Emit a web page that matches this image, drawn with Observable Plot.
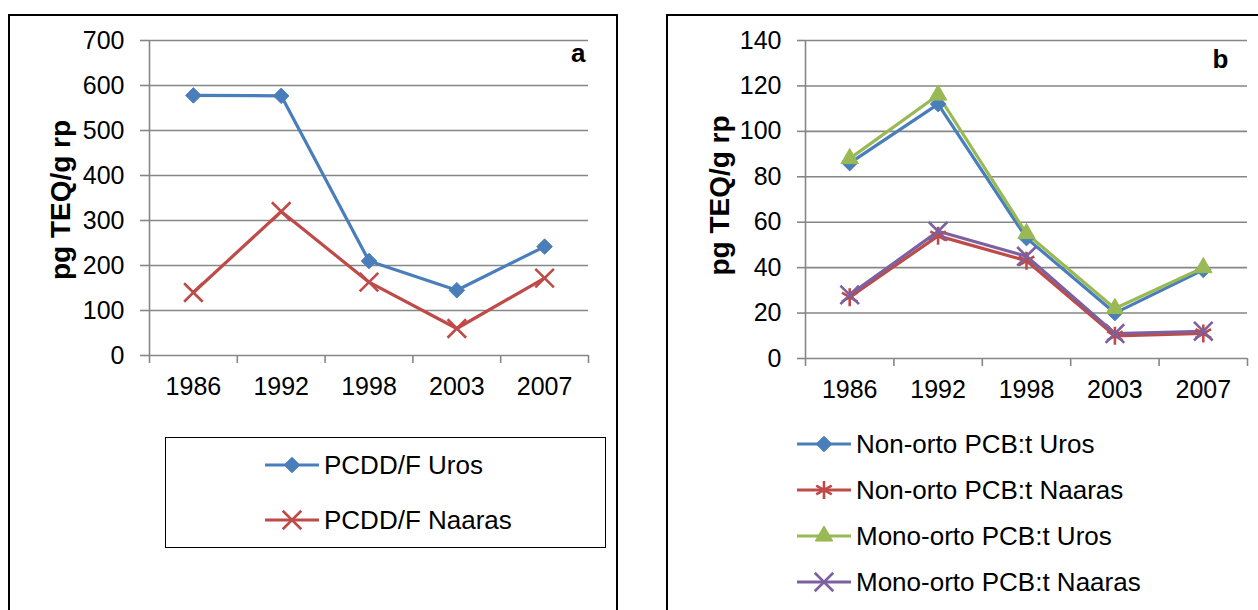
<!DOCTYPE html>
<html><head><meta charset="utf-8">
<script src="https://cdn.jsdelivr.net/npm/d3@7"></script>
<script src="https://cdn.jsdelivr.net/npm/@observablehq/plot@0.6"></script>
<style>
body{margin:0;background:#fff;font-family:"Liberation Sans",Arial,sans-serif;}
#root{position:relative;width:1258px;height:610px;overflow:hidden;background:#fff;}
.panel{position:absolute;border:2px solid #000;box-sizing:border-box;}
.abs{position:absolute;}
</style></head>
<body><div id="root"></div>
<script>
const years = ["1986","1992","1998","2003","2007"];
const yTicksA = [0,100,200,300,400,500,600,700];
const yTicksB = [0,20,40,60,80,100,120,140];
const pcddUros = [578, 577, 210, 145, 242];
const pcddNaaras = [140, 320, 163, 60, 172];
const nonOrtoUros = [86, 112, 53, 20, 39];
const nonOrtoNaaras = [27, 54, 43, 10, 11];
const monoOrtoUros = [88, 116, 55, 22, 40];
const monoOrtoNaaras = [28, 56, 45, 11, 12];
const yLabel = "pg TEQ/g rp";

const seriesA = [
  {name:"PCDD/F Uros", values:pcddUros, color:"#4A7EBB", symbol:"diamond2", fill:true},
  {name:"PCDD/F Naaras", values:pcddNaaras, color:"#BE4B48", symbol:"times", fill:false}
];
const seriesB = [
  {name:"Non-orto PCB:t Uros", values:nonOrtoUros, color:"#4A7EBB", symbol:"diamond2", fill:true},
  {name:"Non-orto PCB:t Naaras", values:nonOrtoNaaras, color:"#BE4B48", symbol:"asterisk", fill:false},
  {name:"Mono-orto PCB:t Uros", values:monoOrtoUros, color:"#98B954", symbol:"triangle", fill:true},
  {name:"Mono-orto PCB:t Naaras", values:monoOrtoNaaras, color:"#7D60A0", symbol:"times", fill:false}
];
const symR = {diamond2:7, triangle:6.5, times:8.5, asterisk:8.5};
const FONT = '"Liberation Sans", Arial, sans-serif';

const root = document.getElementById("root");

function panel(left, top, w, h){
  const d = document.createElement("div");
  d.className = "panel";
  Object.assign(d.style,{left:left+"px",top:top+"px",width:w+"px",height:h+"px"});
  root.appendChild(d);
}
panel(8, 14, 610, 620);
panel(666, 14, 620, 620);

function chart(series, yTicks, opts){
  const bounds = d3.range(-0.5, years.length, 1);
  const marks = [
    Plot.ruleY(yTicks.slice(1), {stroke:"#868686", strokeWidth:1.6, strokeOpacity:1}),
    Plot.axisY({ticks:yTicks, tickSize:opts.tick, tickPadding:16, fontSize:25, stroke:"#868686", strokeWidth:1.6, color:"#000", label:null, tickFormat:d=>String(d)}),
    Plot.ruleX([-0.5], {stroke:"#868686", strokeWidth:1.6}),
    Plot.ruleY([0], {stroke:"#868686", strokeWidth:1.6}),
    Plot.axisX({ticks:bounds, tickSize:8, tickFormat:()=> "", stroke:"#868686", strokeWidth:1.6, label:null}),
    Plot.axisX({ticks:d3.range(years.length), tickSize:0, tickPadding:22, tickFormat:i=>years[i], fontSize:25, label:null}),
    Plot.text([yLabel], {frameAnchor:"left", dx:opts.labelDx, dy:opts.labelDy, rotate:-90, fontSize:28, fontWeight:"bold", textAnchor:"middle"}),
    Plot.text([opts.tag], {frameAnchor:"top-right", dx:opts.tagDx, dy:opts.tagDy, fontSize:26, fontWeight:"bold", textAnchor:"end"})
  ];
  series.forEach(s=>{
    const data = s.values.map((v,i)=>({i,v}));
    marks.push(Plot.line(data, {x:"i", y:"v", stroke:s.color, strokeWidth:3.2}));
  });
  series.forEach(s=>{
    const data = s.values.map((v,i)=>({i,v}));
    if (s.fill) marks.push(Plot.dot(data, {x:"i", y:"v", symbol:s.symbol, fill:s.color, stroke:s.color, strokeWidth:1, r:symR[s.symbol]}));
    else marks.push(Plot.dot(data, {x:"i", y:"v", symbol:s.symbol, stroke:s.color, strokeWidth:2.6, r:symR[s.symbol]}));
  });
  return Plot.plot({
    width:opts.width, height:420,
    marginLeft:opts.ml, marginRight:opts.mr, marginTop:opts.mt, marginBottom:420-opts.y0,
    style:{fontFamily:FONT, background:"transparent", overflow:"visible"},
    x:{type:"linear", domain:[-0.5, years.length-0.5]},
    y:{domain:[yTicks[0], yTicks[yTicks.length-1]]},
    marks
  });
}

const a = chart(seriesA, yTicksA, {width:620, ml:149, mr:32, mt:40, y0:355, tick:9, labelDx:-88, labelDy:2, tag:"a", tagDx:-3, tagDy:3});
a.classList.add("abs"); a.style.left="0px"; a.style.top="0px";
root.appendChild(a);
const b = chart(seriesB, yTicksB, {width:618, ml:165, mr:11, mt:40, y0:358, tick:8, labelDx:-85, labelDy:-4, tag:"b", tagDx:-19, tagDy:9});
b.classList.add("abs"); b.style.left="640px"; b.style.top="0px";
root.appendChild(b);

function legend(items, left, top, gap, boxed, boxW, boxH, lx, y0){
  const ns = "http://www.w3.org/2000/svg";
  const div = document.createElement("div");
  div.className = "abs";
  Object.assign(div.style,{left:left+"px",top:top+"px",width:boxW+"px",height:boxH+"px",boxSizing:"border-box"});
  if (boxed) div.style.border = "1.5px solid #000";
  const svg = document.createElementNS(ns,"svg");
  svg.setAttribute("width", boxW); svg.setAttribute("height", boxH);
  svg.style.position="absolute"; svg.style.left="0"; svg.style.top="0"; svg.style.overflow="visible";
  div.appendChild(svg);
  const symMap = {diamond2:d3.symbolDiamond2, times:d3.symbolTimes, triangle:d3.symbolTriangle, asterisk:d3.symbolAsterisk};
  items.forEach((s,k)=>{
    const cy = y0 + k*gap;
    const line = document.createElementNS(ns,"line");
    line.setAttribute("x1",lx); line.setAttribute("x2",lx+54);
    line.setAttribute("y1",cy); line.setAttribute("y2",cy);
    line.setAttribute("stroke",s.color); line.setAttribute("stroke-width",3.2);
    svg.appendChild(line);
    const r = symR[s.symbol];
    const p = document.createElementNS(ns,"path");
    p.setAttribute("d", d3.symbol(symMap[s.symbol], Math.PI*r*r)());
    p.setAttribute("transform",`translate(${lx+27},${cy})`);
    if (s.fill){p.setAttribute("fill",s.color);p.setAttribute("stroke",s.color);}
    else {p.setAttribute("fill","none");p.setAttribute("stroke",s.color);p.setAttribute("stroke-width",2.6);}
    svg.appendChild(p);
    const t = document.createElementNS(ns,"text");
    t.setAttribute("x",lx+59); t.setAttribute("y",cy); t.setAttribute("dy","0.35em");
    t.setAttribute("font-size",26); t.setAttribute("font-family",FONT);
    t.textContent = s.name;
    svg.appendChild(t);
  });
  root.appendChild(div);
}
legend(seriesA, 165, 437, 55, true, 441, 111, 99, 27);
legend(seriesB, 790, 430, 46, false, 460, 170, 7, 14);
</script>
</body></html>
